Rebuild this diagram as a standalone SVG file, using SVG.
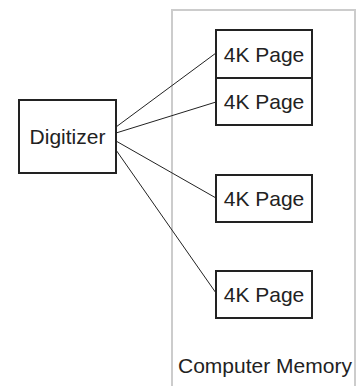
<svg xmlns="http://www.w3.org/2000/svg" width="357" height="386" viewBox="0 0 357 386">
<style>
.box{fill:#fff;stroke:#222;stroke-width:2}
.mem{fill:none;stroke:#ccc;stroke-width:2}
.t{font-family:"Liberation Sans",Arial,sans-serif;font-size:21px;fill:#222}
.c{stroke:#222;stroke-width:1;fill:none}
</style>
<rect width="357" height="386" fill="#fff"/>
<g id="memory">
<rect class="mem" x="172" y="10" width="183" height="390"/>
<text class="t" x="178" y="373">Computer Memory</text>
</g>
<g id="connectors">
<line class="c" x1="116" y1="127" x2="216" y2="53"/>
<line class="c" x1="116" y1="133" x2="216" y2="102"/>
<line class="c" x1="116" y1="141" x2="216" y2="198"/>
<line class="c" x1="116" y1="150" x2="216" y2="293"/>
</g>
<g id="digitizer">
<rect class="box" x="19" y="100" width="97" height="73"/>
<text class="t" x="67.5" y="144" text-anchor="middle">Digitizer</text>
</g>
<g id="page1">
<rect class="box" x="216" y="30" width="96" height="48"/>
<text class="t" x="264" y="62" text-anchor="middle">4K Page</text>
</g>
<g id="page2">
<rect class="box" x="216" y="78" width="96" height="47"/>
<text class="t" x="264" y="109" text-anchor="middle">4K Page</text>
</g>
<g id="page3">
<rect class="box" x="216" y="175" width="96" height="47"/>
<text class="t" x="264" y="206" text-anchor="middle">4K Page</text>
</g>
<g id="page4">
<rect class="box" x="216" y="271" width="96" height="47"/>
<text class="t" x="264" y="302" text-anchor="middle">4K Page</text>
</g>
</svg>
